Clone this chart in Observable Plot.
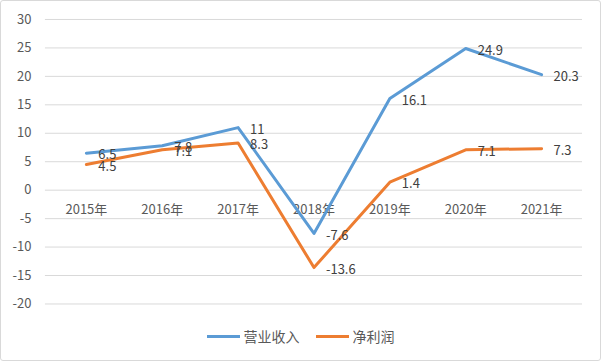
<!DOCTYPE html>
<html>
<head>
<meta charset="utf-8">
<script src="https://cdn.jsdelivr.net/npm/d3@7"></script>
<script src="https://cdn.jsdelivr.net/npm/@observablehq/plot@0.6"></script>
<style>
  html, body { margin: 0; padding: 0; background: #fff; }
  #wrap { position: relative; width: 601px; height: 361px; box-sizing: border-box; border: 1px solid #d9d9d9; border-radius: 3px; overflow: hidden; font-family: "Noto Sans CJK SC", "Noto Sans", sans-serif; }
  #chart { position: absolute; left: -1px; top: -1px; }
  #legend { position: absolute; left: 0; width: 599px; top: 325px; display: flex; justify-content: center; gap: 16px; font-size: 14px; color: #595959; }
  .item { display: flex; align-items: center; gap: 4px; }
  .sw { width: 33px; height: 3px; }
</style>
</head>
<body>
<div id="wrap">
  <div id="chart"></div>
  <div id="legend"></div>
</div>
<script>
const categories = ["2015年", "2016年", "2017年", "2018年", "2019年", "2020年", "2021年"];
const revenue = [6.5, 7.8, 11, -7.6, 16.1, 24.9, 20.3];
const profit = [4.5, 7.1, 8.3, -13.6, 1.4, 7.1, 7.3];
const seriesNames = ["营业收入", "净利润"];
const seriesColors = ["#5B9BD5", "#ED7D31"];
const yTicks = [-20, -15, -10, -5, 0, 5, 10, 15, 20, 25, 30];

const rows = [];
categories.forEach((c, i) => {
  rows.push({cat: c, value: revenue[i], series: seriesNames[0]});
  rows.push({cat: c, value: profit[i], series: seriesNames[1]});
});

const chart = Plot.plot({
  width: 601,
  height: 320,
  marginTop: 19,
  marginBottom: 16,
  marginLeft: 45,
  marginRight: 18,
  style: {fontFamily: '"Noto Sans CJK SC", "Noto Sans", sans-serif', fontSize: "13px", background: "transparent"},
  x: {type: "point", domain: categories, padding: 0.5, axis: null},
  y: {domain: [-20, 30], axis: null},
  color: {domain: seriesNames, range: seriesColors},
  marks: [
    Plot.ruleY(yTicks, {stroke: "#d9d9d9", strokeWidth: 1}),
    Plot.axisY({ticks: yTicks, tickSize: 0, tickPadding: 14, label: null, tickFormat: d => String(d), fill: "#595959", fontSize: 13}),
    Plot.text(categories, {x: d => d, y: () => 0, text: d => d, dy: 20, fill: "#595959", fontSize: 13}),
    Plot.line(rows, {x: "cat", y: "value", z: "series", stroke: "series", strokeWidth: 3, strokeLinejoin: "round", strokeLinecap: "round"}),
    Plot.text(rows, {x: "cat", y: "value", text: d => String(d.value), textAnchor: "start", dx: 12, dy: 2, fill: "#404040", fontSize: 13})
  ]
});
document.getElementById("chart").appendChild(chart);

const legend = document.getElementById("legend");
seriesNames.forEach((n, i) => {
  const it = document.createElement("div");
  it.className = "item";
  const sw = document.createElement("div");
  sw.className = "sw";
  sw.style.background = seriesColors[i];
  const tx = document.createElement("span");
  tx.textContent = n;
  it.appendChild(sw); it.appendChild(tx);
  legend.appendChild(it);
});
</script>
</body>
</html>
